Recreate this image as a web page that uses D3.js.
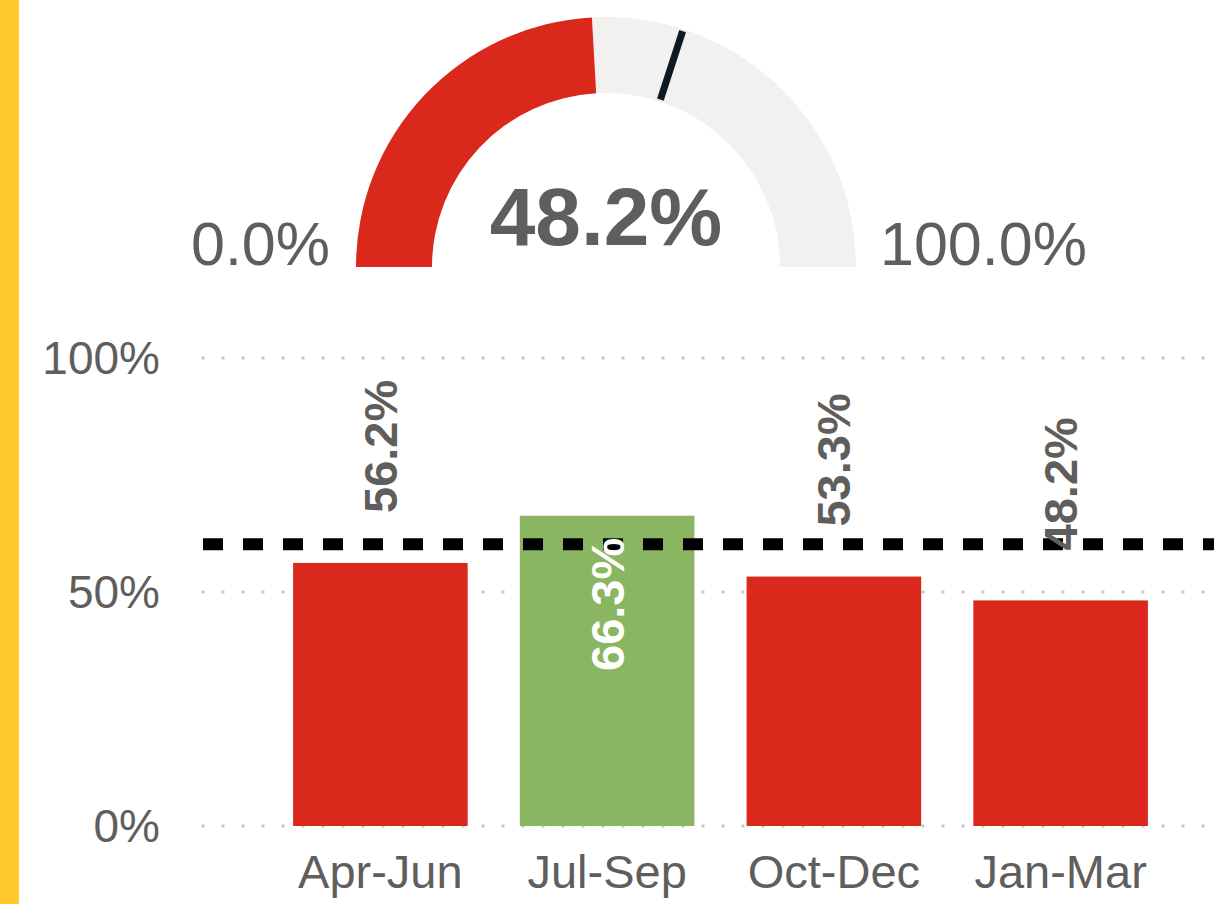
<!DOCTYPE html>
<html>
<head>
<meta charset="utf-8">
<script src="https://cdn.jsdelivr.net/npm/d3@7"></script>
<style>
  body { margin: 0; background: #fff; overflow: hidden; }
  svg { display: block; font-family: "Liberation Sans", Arial, sans-serif; }
</style>
</head>
<body>
<script>
// quarters and their values (%)
var categories = ['Apr-Jun', 'Jul-Sep', 'Oct-Dec', 'Jan-Mar'];
var values = [56.2, 66.3, 53.3, 48.2];
var target = 60;
// gauge
var gaugeValue = 48.2;
var gaugeMin = 0, gaugeMax = 100;
var yTicks = [0, 50, 100];

var W = 1214, H = 904;
var red = '#DA291C', green = '#8AB661', grey = '#605E5C';

var svg = d3.select('body').append('svg')
	.attr('width', W)
	.attr('height', H);

// yellow stripe on the left
svg.append('rect')
	.attr('x', 0).attr('y', 0)
	.attr('width', 19).attr('height', H)
	.attr('fill', '#FFC92E');

// ---- gauge ----
var cx = 606, cy = 267, rOut = 250, rIn = 174;
var ang = d3.scaleLinear().domain([gaugeMin, gaugeMax]).range([-Math.PI / 2, Math.PI / 2]);
var arc = d3.arc().innerRadius(rIn).outerRadius(rOut);
var gauge = svg.append('g').attr('transform', 'translate(' + cx + ',' + cy + ')');

gauge.append('path')
	.attr('d', arc({ startAngle: ang(gaugeMin), endAngle: ang(gaugeMax) }))
	.attr('fill', '#F2F1EF');
gauge.append('path')
	.attr('d', arc({ startAngle: ang(gaugeMin), endAngle: ang(gaugeValue) }))
	.attr('fill', gaugeValue >= target ? green : red);

var a = ang(target);
gauge.append('line')
	.attr('x1', (rIn + 2) * Math.sin(a)).attr('y1', -(rIn + 2) * Math.cos(a))
	.attr('x2', (rOut - 2) * Math.sin(a)).attr('y2', -(rOut - 2) * Math.cos(a))
	.attr('stroke', '#0E1A23')
	.attr('stroke-width', 7);

gauge.append('text')
	.attr('x', 0).attr('y', -22)
	.attr('text-anchor', 'middle')
	.attr('font-size', 82).attr('font-weight', 'bold')
	.attr('fill', grey)
	.text(gaugeValue.toFixed(1) + '%');
gauge.append('text')
	.attr('x', -rOut - 26).attr('y', -2)
	.attr('text-anchor', 'end')
	.attr('font-size', 61)
	.attr('fill', grey)
	.text(gaugeMin.toFixed(1) + '%');
gauge.append('text')
	.attr('x', rOut + 24).attr('y', -2)
	.attr('text-anchor', 'start')
	.attr('font-size', 61)
	.attr('fill', grey)
	.text(gaugeMax.toFixed(1) + '%');

// ---- column chart ----
var x = d3.scaleBand()
	.domain(categories)
	.range([267, 1174])
	.paddingInner(0.23)
	.paddingOuter(0.115);
var y = d3.scaleLinear().domain([0, 100]).range([826, 358]);

var chart = svg.append('g');

// dotted grid
chart.selectAll('.grid')
	.data(yTicks)
	.enter().append('line')
	.attr('class', 'grid')
	.attr('x1', 203).attr('x2', W)
	.attr('y1', function(d) { return y(d); })
	.attr('y2', function(d) { return y(d); })
	.attr('stroke', '#C8C8C8')
	.attr('stroke-width', 3.5)
	.attr('stroke-linecap', 'round')
	.attr('stroke-dasharray', '0,20');

// y labels
chart.selectAll('.ylab')
	.data(yTicks)
	.enter().append('text')
	.attr('class', 'ylab')
	.attr('x', 160)
	.attr('y', function(d) { return y(d); })
	.attr('dy', '0.35em')
	.attr('text-anchor', 'end')
	.attr('font-size', 46)
	.attr('fill', grey)
	.text(function(d) { return d + '%'; });

// bars
chart.selectAll('.bar')
	.data(values)
	.enter().append('rect')
	.attr('class', 'bar')
	.attr('x', function(d, i) { return x(categories[i]); })
	.attr('width', x.bandwidth())
	.attr('y', function(d) { return y(d); })
	.attr('height', function(d) { return y(0) - y(d); })
	.attr('fill', function(d) { return d >= target ? green : red; });

// target line
chart.append('line')
	.attr('x1', 203).attr('x2', W)
	.attr('y1', y(target) - 1).attr('y2', y(target) - 1)
	.attr('stroke', '#000')
	.attr('stroke-width', 12)
	.attr('stroke-dasharray', '20,20');

// data labels (rotated)
chart.selectAll('.dlab')
	.data(values)
	.enter().append('text')
	.attr('class', 'dlab')
	.attr('transform', function(d, i) {
		var cxb = x(categories[i]) + x.bandwidth() / 2;
		var yy = d >= target ? y(d) + 22 : y(d) - 50;
		return 'translate(' + cxb + ',' + yy + ') rotate(-90)';
	})
	.attr('dy', '0.35em')
	.attr('text-anchor', function(d) { return d >= target ? 'end' : 'start'; })
	.attr('font-size', 47)
	.attr('font-weight', 'bold')
	.attr('fill', function(d) { return d >= target ? '#fff' : grey; })
	.text(function(d) { return d.toFixed(1) + '%'; });

// category labels
chart.selectAll('.xlab')
	.data(categories)
	.enter().append('text')
	.attr('class', 'xlab')
	.attr('x', function(d) { return x(d) + x.bandwidth() / 2; })
	.attr('y', 888)
	.attr('text-anchor', 'middle')
	.attr('font-size', 47)
	.attr('fill', grey)
	.text(function(d) { return d; });
</script>
</body>
</html>
